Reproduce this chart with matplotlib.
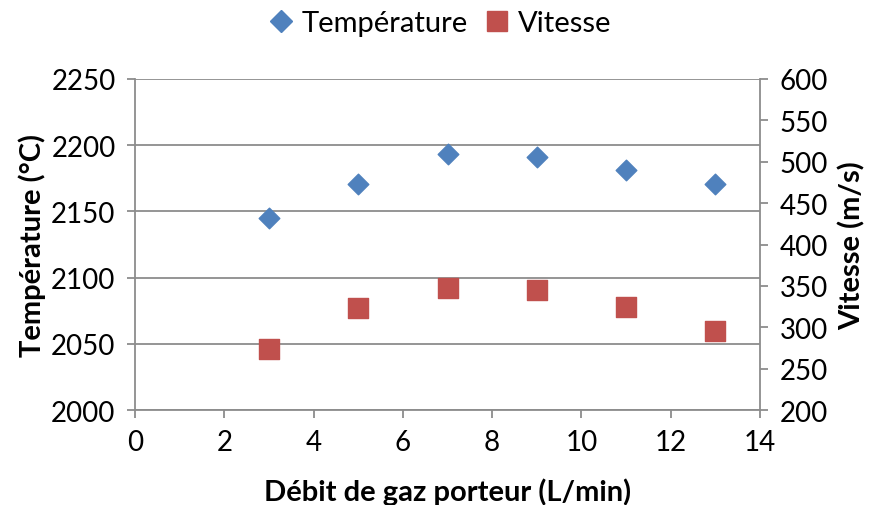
import matplotlib
matplotlib.use('Agg')
import matplotlib.pyplot as plt
from matplotlib.lines import Line2D

plt.rcParams['font.family'] = ['Lato', 'DejaVu Sans']

debit = [3, 5, 7, 9, 11, 13]
temperature = [2145, 2171, 2193, 2191, 2181, 2171]
vitesse = [274, 323, 347, 345, 324, 295]

x_ticks = [0, 2, 4, 6, 8, 10, 12, 14]
temp_ticks = [2000, 2050, 2100, 2150, 2200, 2250]
vit_ticks = [200, 250, 300, 350, 400, 450, 500, 550, 600]

blue = "#4F81BD"
red = "#C0504D"
gray = "#8C8C8C"

fig = plt.figure(figsize=(8.72, 5.06), dpi=100)
ax = fig.add_axes([0.1548, 0.1877, 0.8716 - 0.1548, 0.8419 - 0.1877])
ax2 = ax.twinx()

ax.scatter(debit, temperature, marker="D", s=110, color=blue, zorder=3)
ax2.scatter(debit, vitesse, marker="s", s=190, color=red, zorder=3)

ax.set_xlim(0, 14)
ax.set_ylim(2000, 2250)
ax2.set_ylim(200, 600)
ax.set_xticks(x_ticks)
ax.set_yticks(temp_ticks)
ax2.set_yticks(vit_ticks)

ax.grid(axis="y", color=gray, linewidth=1.3)
ax.set_axisbelow(True)

for a in (ax, ax2):
    a.spines["top"].set_visible(False)
    a.tick_params(labelsize=20, color=gray, length=6, width=1.3, pad=8)
ax.spines["right"].set_visible(False)
ax2.spines["left"].set_visible(False)
ax2.spines["bottom"].set_visible(False)
ax.spines["left"].set_color(gray)
ax.spines["bottom"].set_color(gray)
ax2.spines["right"].set_color(gray)
for s in ("left", "bottom"):
    ax.spines[s].set_linewidth(1.3)
ax2.spines["right"].set_linewidth(1.3)

ax.set_xlabel("Débit de gaz porteur (L/min)", fontsize=21, fontweight="bold", labelpad=16)
ax.set_ylabel("Température (°C)", fontsize=21, fontweight="bold", labelpad=4)
ax2.set_ylabel("Vitesse (m/s)", fontsize=21, fontweight="bold", labelpad=8)

handles = [
    Line2D([], [], marker="D", color=blue, linestyle="none", markersize=11),
    Line2D([], [], marker="s", color=red, linestyle="none", markersize=15),
]
fig.legend(handles, ["Température", "Vitesse"], loc="upper center",
           bbox_to_anchor=(0.5, 1.03), ncol=2, frameon=False, fontsize=21,
           handletextpad=0.0, columnspacing=0.3, handlelength=1.4)

fig.savefig("out.png", dpi=100)
